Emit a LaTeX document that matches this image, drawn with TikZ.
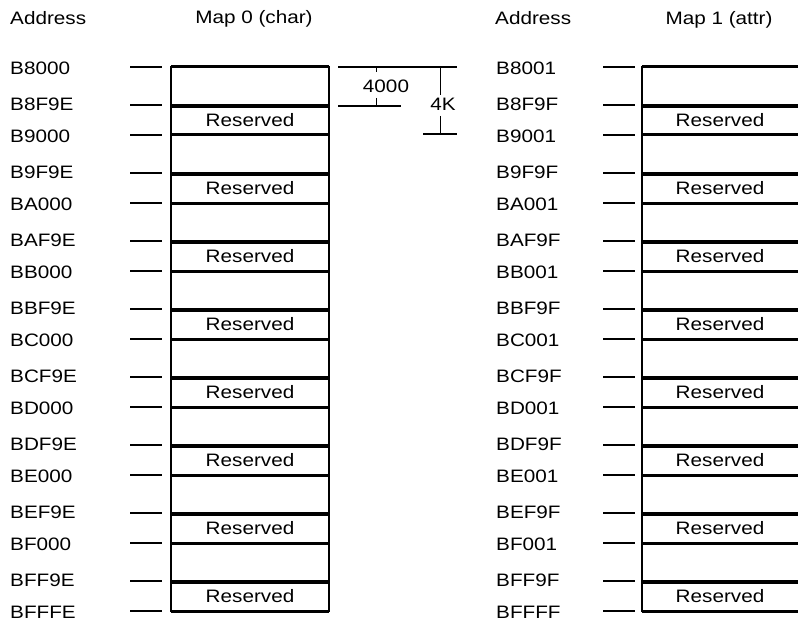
\documentclass[tikz,border=0pt]{standalone}
\usepackage{fontspec}
\setmainfont{Liberation Sans}[FakeStretch=1.15]
\begin{document}
\begin{tikzpicture}[x=1pt,y=-1pt,font=\fontsize{18}{21}\selectfont,
  lbl/.style={anchor=west,inner sep=0pt},
  ticksty/.style={line width=1.6pt},
  bline/.style={line width=3pt},
  rline/.style={line width=3.6pt},
  vline/.style={line width=2pt},
  dimline/.style={line width=1.5pt},
  dimtick/.style={line width=0.8pt}]
\useasboundingbox (0,0) rectangle (798,623);
% headers
\node[lbl] (hA0) at (10,18) {Address};
\node (hM0) at (254,19) {Map 0 (char)};
\node[lbl] (hA1) at (495,18) {Address};
\node (hM1) at (719,20) {Map 1 (attr)};
% blocks
\foreach \k/\h in {0/8,1/9,2/A,3/B,4/C,5/D,6/E,7/F}{
  \pgfmathsetmacro\yb{67+68*\k}
  \pgfmathsetmacro\yr{106+68*\k}
  % left map
  \node[lbl] (la\k) at (10,\yb+1) {B\h000};
  \node[lbl] (lr\k) at (10,\yr-2) {B\h F9E};
  \draw[ticksty] (130,\yb) -- (162,\yb);
  \draw[ticksty] (130,\yr-1) -- (162,\yr-1);
  \draw[bline] (171,\yb) -- (329,\yb);
  \draw[rline] (171,\yr) -- (329,\yr);
  \node (lres\k) at (250,\yr+14) {Reserved};
  % right map
  \node[lbl] (ra\k) at (496,\yb+1) {B\h001};
  \node[lbl] (rr\k) at (496,\yr-2) {B\h F9F};
  \draw[ticksty] (603,\yb) -- (635,\yb);
  \draw[ticksty] (603,\yr-1) -- (635,\yr-1);
  \draw[bline] (642,\yb) -- (800,\yb);
  \draw[rline] (642,\yr) -- (800,\yr);
  \node (rres\k) at (720,\yr+14) {Reserved};
}
% bottom
\node[lbl] (lend) at (10,612) {BFFFE};
\node[lbl] (rend) at (496,612) {BFFFF};
\draw[ticksty] (130,611) -- (162,611);
\draw[ticksty] (603,611) -- (635,611);
\draw[bline] (171,611) -- (329,611);
\draw[bline] (642,611) -- (800,611);
% verticals
\draw[vline] (171,66) -- (171,612);
\draw[vline] (329,66) -- (329,612);
\draw[vline] (642,66) -- (642,612);
% dimension
\draw[dimline] (338,67) -- (457,67);
\draw[dimline] (338,106) -- (401,106);
\draw[dimtick] (376,67) -- (376,72);
\draw[dimtick] (376,98) -- (376,106);
\node (d4000) at (386,86) {4000};
\draw[dimtick] (440,67) -- (440,95);
\draw[dimtick] (440,116) -- (440,135);
\draw[dimline] (423,134) -- (457,134);
\node (d4k) at (443,104) {4K};
\end{tikzpicture}
\end{document}
